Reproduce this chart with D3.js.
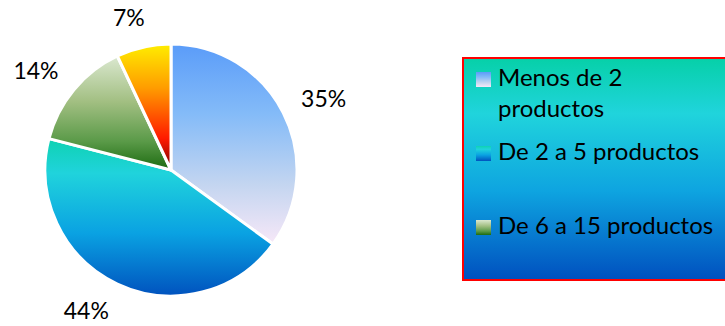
<!DOCTYPE html>
<html>
<head>
<meta charset="utf-8">
<script src="https://cdn.jsdelivr.net/npm/d3@7"></script>
<style>
  html, body { margin: 0; padding: 0; background: #fff; }
  svg { display: block; }
  text { font-family: Lato, "Open Sans", sans-serif; fill: #000; }
</style>
</head>
<body>
<svg id="chart" width="725" height="326"></svg>
<script>
// Product-count groups and their share of respondents (%)
const categories = ["Menos de 2 productos", "De 2 a 5 productos", "De 6 a 15 productos", "Más de 15 productos"];
const values = [35, 44, 14, 7];
const valueLabels = ["35%", "44%", "14%", "7%"];
// Legend rows (each label split over its lines)
const legendLines = [["Menos de 2", "productos"], ["De 2 a 5 productos"], ["De 6 a 15 productos"]];

// Vertical gradient stops for each slice
const sliceGradients = [
  [[0, "#5a9cf9"], [0.35, "#84bbf8"], [0.7, "#c3d5f0"], [1, "#f7e8f8"]],
  [[0, "#0ed2b2"], [0.22, "#20d3dc"], [0.6, "#0aa2e2"], [1, "#0052be"]],
  [[0, "#dbe8d0"], [0.4, "#a2bf82"], [0.75, "#5a9a48"], [1, "#1c6a10"]],
  [[0, "#ffee00"], [0.35, "#ff9c00"], [0.75, "#ff1a00"], [1, "#7a0000"]]
];
const legendFill = [[0, "#06d0a8"], [0.25, "#20d4dc"], [0.6, "#0ea4e0"], [1, "#0050bf"]];

const svg = d3.select("#chart");
const defs = svg.append("defs");

function addGradient(id, stops) {
  const g = defs.append("linearGradient").attr("id", id)
    .attr("x1", 0).attr("y1", 0).attr("x2", 0).attr("y2", 1);
  g.selectAll("stop").data(stops).join("stop")
    .attr("offset", d => d[0]).attr("stop-color", d => d[1]);
}
sliceGradients.forEach((s, i) => addGradient("slice" + i, s));
addGradient("legendBg", legendFill);

// Pie
const cx = 171, cy = 170, radius = 126;
const pie = d3.pie().sort(null).value(d => d)(values);
const arc = d3.arc().innerRadius(0).outerRadius(radius);

const g = svg.append("g").attr("transform", `translate(${cx},${cy})`);
g.selectAll("path.slice").data(pie).join("path")
  .attr("class", "slice")
  .attr("d", arc)
  .attr("fill", (d, i) => `url(#slice${i})`)
  .attr("stroke", "#fff")
  .attr("stroke-width", 3)
  .attr("stroke-linejoin", "round");

// Percentage labels outside each slice: anchored on the slice's mid-angle,
// then pushed sideways by up to half their width so they clear the rim.
const labelFont = 23;
const capHalf = labelFont * 0.36;
const clamp = v => Math.max(-1, Math.min(1, v));
g.selectAll("text.pct").data(pie).join("text")
  .attr("class", "pct")
  .attr("font-size", labelFont)
  .attr("text-anchor", "middle")
  .text((d, i) => valueLabels[i])
  .each(function(d) {
    const a = (d.startAngle + d.endAngle) / 2;
    const sx = Math.sin(a), sy = -Math.cos(a);
    const hw = this.getBBox().width / 2;
    const x = sx * (radius + 20) + hw * clamp(3 * sx);
    const y = sy * (radius + 30);
    d3.select(this).attr("x", x).attr("y", y + capHalf);
  });

// Legend box
const lx = 463, ly = 58, lw = 270, lh = 222;
svg.append("rect")
  .attr("x", lx).attr("y", ly).attr("width", lw).attr("height", lh)
  .attr("fill", "url(#legendBg)")
  .attr("stroke", "#ff0000").attr("stroke-width", 2);

const rowY = [86, 160, 234];
const lineStep = 31;
const legend = svg.append("g");
legendLines.forEach((lines, i) => {
  const row = legend.append("g");
  row.append("rect")
    .attr("x", 476).attr("y", rowY[i] - 14).attr("width", 15).attr("height", 15)
    .attr("fill", `url(#slice${i})`);
  lines.forEach((t, j) => {
    row.append("text")
      .attr("x", 498).attr("y", rowY[i] + j * lineStep)
      .attr("font-size", 24)
      .text(t);
  });
});
</script>
</body>
</html>
